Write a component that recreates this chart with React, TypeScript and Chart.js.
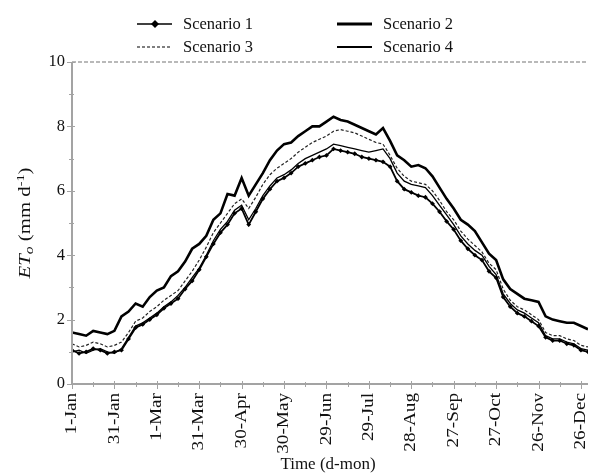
import React, { useEffect, useRef } from 'react';
import { Chart, registerables } from 'chart.js';

Chart.register(...registerables);

// Day of year (leap year, 1 = 1-Jan)
const days = [1, 6, 11, 16, 21, 26, 31, 36, 41, 46, 51, 56, 61, 66, 71, 76, 81, 86, 91, 96, 101, 106, 111, 116, 121, 126, 131, 136, 141, 146, 151, 156, 161, 166, 171, 176, 181, 186, 191, 196, 201, 206, 211, 216, 221, 226, 231, 236, 241, 246, 251, 256, 261, 266, 271, 276, 281, 286, 291, 296, 301, 306, 311, 316, 321, 326, 331, 336, 341, 346, 351, 356, 361, 366];

const scenario1 = [1.05, 0.95, 1.0, 1.1, 1.05, 0.95, 1.0, 1.05, 1.4, 1.75, 1.85, 2.0, 2.15, 2.35, 2.5, 2.65, 2.95, 3.2, 3.55, 3.95, 4.35, 4.7, 4.95, 5.3, 5.45, 4.95, 5.35, 5.75, 6.05, 6.3, 6.4, 6.55, 6.75, 6.85, 6.95, 7.05, 7.1, 7.3, 7.25, 7.2, 7.15, 7.05, 7.0, 6.95, 6.9, 6.75, 6.3, 6.05, 5.95, 5.85, 5.8, 5.6, 5.35, 5.05, 4.8, 4.45, 4.2, 4.0, 3.85, 3.5, 3.3, 2.7, 2.4, 2.2, 2.1, 1.95, 1.8, 1.45, 1.35, 1.35, 1.25, 1.2, 1.05, 1.0];

const scenario2 = [1.6, 1.55, 1.5, 1.65, 1.6, 1.55, 1.65, 2.1, 2.25, 2.5, 2.4, 2.7, 2.9, 3.0, 3.35, 3.5, 3.8, 4.2, 4.35, 4.6, 5.1, 5.3, 5.9, 5.85, 6.4, 5.85, 6.2, 6.55, 6.95, 7.25, 7.45, 7.5, 7.7, 7.85, 8.0, 8.0, 8.15, 8.3, 8.2, 8.15, 8.05, 7.95, 7.85, 7.75, 7.95, 7.55, 7.1, 6.95, 6.75, 6.8, 6.7, 6.45, 6.1, 5.75, 5.45, 5.1, 4.95, 4.75, 4.4, 4.05, 3.85, 3.25, 2.95, 2.8, 2.65, 2.6, 2.55, 2.1, 2.0, 1.95, 1.9, 1.9, 1.8, 1.7];

const scenario3 = [1.25, 1.15, 1.2, 1.3, 1.25, 1.15, 1.2, 1.3, 1.6, 1.95, 2.05, 2.25, 2.4, 2.6, 2.75, 2.9, 3.2, 3.5, 3.85, 4.25, 4.7, 5.0, 5.3, 5.6, 5.75, 5.45, 5.8, 6.2, 6.5, 6.7, 6.85, 7.0, 7.2, 7.35, 7.5, 7.6, 7.7, 7.85, 7.9, 7.85, 7.8, 7.7, 7.6, 7.5, 7.45, 7.1, 6.7, 6.45, 6.3, 6.25, 6.2, 6.0, 5.7, 5.35, 5.1, 4.75, 4.5, 4.3, 4.1, 3.75, 3.55, 2.95, 2.6, 2.4, 2.3, 2.15, 2.0, 1.6, 1.5, 1.5, 1.4, 1.35, 1.2, 1.15];

const scenario4 = [1.0, 1.05, 0.95, 1.05, 1.1, 1.0, 0.95, 1.1, 1.45, 1.8, 1.9, 2.05, 2.2, 2.4, 2.55, 2.75, 3.0, 3.3, 3.6, 4.0, 4.45, 4.8, 5.05, 5.4, 5.55, 5.1, 5.45, 5.85, 6.15, 6.4, 6.5, 6.65, 6.85, 7.0, 7.1, 7.2, 7.3, 7.45, 7.4, 7.35, 7.3, 7.25, 7.2, 7.25, 7.3, 7.0, 6.55, 6.3, 6.2, 6.15, 6.1, 5.85, 5.55, 5.25, 4.95, 4.6, 4.35, 4.15, 4.0, 3.65, 3.4, 2.8, 2.5, 2.3, 2.2, 2.05, 1.9, 1.5, 1.4, 1.4, 1.3, 1.25, 1.1, 1.05];

const xTickLabels = ['1-Jan', '31-Jan', '1-Mar', '31-Mar', '30-Apr', '30-May', '29-Jun', '29-Jul', '28-Aug', '27-Sep', '27-Oct', '26-Nov', '26-Dec'];
const xTickDays = [1, 31, 61, 91, 121, 151, 181, 211, 241, 271, 301, 331, 361];
const yTickLabels = ['0', '2', '4', '6', '8', '10'];

const seriesNames = ['Scenario 1', 'Scenario 2', 'Scenario 3', 'Scenario 4'];

const FONT = '"Liberation Serif", "Times New Roman", serif';
const AXIS_COLOR = '#a3a3a3';
const TEXT_COLOR = '#111';

const toPoints = (vals: number[]) => vals.map((v, i) => ({ x: days[i], y: v }));

const decorPlugin = {
  id: 'decor',
  afterDatasetsDraw(chart: any) {
    const ctx = chart.ctx;
    const xs = chart.scales.x;
    const ys = chart.scales.y;
    const x0 = xs.left;
    const y0 = ys.bottom;
    ctx.save();
    const yTop = ys.getPixelForValue(10);
    ctx.strokeStyle = AXIS_COLOR;
    ctx.lineWidth = 1.5;
    ctx.setLineDash([4, 2]);
    ctx.beginPath();
    ctx.moveTo(x0, yTop);
    ctx.lineTo(xs.right, yTop);
    ctx.stroke();
    ctx.setLineDash([]);
    ctx.lineWidth = 2;
    ctx.beginPath();
    ctx.moveTo(x0, yTop);
    ctx.lineTo(x0, y0);
    ctx.lineTo(xs.right, y0);
    ctx.stroke();
    ctx.lineWidth = 1;
    for (let d = 1; d <= 366; d += 15) {
      const px = Math.round(xs.getPixelForValue(d)) + 0.5;
      const major = (d - 1) % 30 === 0;
      ctx.beginPath();
      ctx.moveTo(px, y0 - (major ? 3 : 2));
      ctx.lineTo(px, y0 + (major ? 5 : 3));
      ctx.stroke();
    }
    for (let v = 0; v <= 10; v += 1) {
      const py = Math.round(ys.getPixelForValue(v)) + 0.5;
      const major = v % 2 === 0;
      ctx.beginPath();
      ctx.moveTo(x0 - (major ? 5 : 3), py);
      ctx.lineTo(x0 + (major ? 3 : 2), py);
      ctx.stroke();
    }
    ctx.restore();
  },
  afterDraw(chart: any) {
    const ctx = chart.ctx;
    const xs = chart.scales.x;
    const ys = chart.scales.y;

    // rotated x tick labels
    ctx.save();
    ctx.fillStyle = TEXT_COLOR;
    ctx.font = `16px ${FONT}`;
    ctx.textAlign = 'right';
    ctx.textBaseline = 'middle';
    xTickDays.forEach((d, i) => {
      const px = xs.getPixelForValue(d);
      ctx.save();
      ctx.translate(px, ys.bottom + 9);
      ctx.rotate(-Math.PI / 2);
      ctx.scale(1.2, 1);
      ctx.fillText(xTickLabels[i], 0, 0);
      ctx.restore();
    });
    ctx.restore();

    ctx.save();
    ctx.fillStyle = TEXT_COLOR;
    // x title
    ctx.font = `17px ${FONT}`;
    ctx.textAlign = 'center';
    ctx.textBaseline = 'middle';
    ctx.fillText('Time (d-mon)', (xs.left + xs.right) / 2 - 2, 465);
    // y title with subscript / superscript
    const parts = [
      { t: 'ET', f: `italic 16px ${FONT}`, dy: 0 },
      { t: 'o', f: `italic 12px ${FONT}`, dy: 4 },
      { t: ' (mm d', f: `16px ${FONT}`, dy: 0 },
      { t: '-1', f: `11px ${FONT}`, dy: -5 },
      { t: ')', f: `16px ${FONT}`, dy: 0 },
    ];
    let total = 0;
    for (const p of parts) {
      ctx.font = p.f;
      total += ctx.measureText(p.t).width;
    }
    ctx.translate(26, (ys.top + ys.bottom) / 2);
    ctx.rotate(-Math.PI / 2);
    ctx.scale(1.3, 1);
    ctx.textAlign = 'left';
    let cx = -total / 2;
    for (const p of parts) {
      ctx.font = p.f;
      ctx.fillText(p.t, cx, p.dy);
      cx += ctx.measureText(p.t).width;
    }
    ctx.restore();

    // legend
    ctx.save();
    ctx.font = `16.5px ${FONT}`;
    ctx.textAlign = 'left';
    ctx.textBaseline = 'middle';
    ctx.fillStyle = TEXT_COLOR;
    ctx.strokeStyle = '#000';
    const items = [
      { name: seriesNames[0], lx: 137, ty: 24, w: 1.5, dash: [] as number[], marker: true },
      { name: seriesNames[1], lx: 337, ty: 24, w: 3, dash: [] as number[], marker: false },
      { name: seriesNames[2], lx: 137, ty: 47, w: 1.2, dash: [3, 2], marker: false },
      { name: seriesNames[3], lx: 337, ty: 47, w: 2, dash: [] as number[], marker: false },
    ];
    for (const it of items) {
      ctx.lineWidth = it.w;
      ctx.setLineDash(it.dash);
      ctx.beginPath();
      ctx.moveTo(it.lx, it.ty);
      ctx.lineTo(it.lx + 35, it.ty);
      ctx.stroke();
      ctx.setLineDash([]);
      if (it.marker) {
        const mx = it.lx + 18;
        ctx.fillStyle = '#000';
        ctx.beginPath();
        ctx.moveTo(mx, it.ty - 4);
        ctx.lineTo(mx + 4, it.ty);
        ctx.lineTo(mx, it.ty + 4);
        ctx.lineTo(mx - 4, it.ty);
        ctx.closePath();
        ctx.fill();
        ctx.fillStyle = TEXT_COLOR;
      }
      ctx.fillText(it.name, it.lx + 46, it.ty + 1);
    }
    ctx.restore();
  },
};

export default function App() {
  const canvasRef = useRef<HTMLCanvasElement | null>(null);

  useEffect(() => {
    document.body.style.margin = '0';
    const canvas = canvasRef.current;
    if (!canvas) return;
    const chart = new Chart(canvas, {
      type: 'line',
      data: {
        datasets: [
          {
            label: seriesNames[1],
            data: toPoints(scenario2),
            borderColor: '#000',
            borderWidth: 2.6,
            pointRadius: 0,
            tension: 0,
          },
          {
            label: seriesNames[2],
            data: toPoints(scenario3),
            borderColor: '#222',
            borderWidth: 1.2,
            borderDash: [3, 2],
            pointRadius: 0,
            tension: 0,
          },
          {
            label: seriesNames[3],
            data: toPoints(scenario4),
            borderColor: '#000',
            borderWidth: 1.3,
            pointRadius: 0,
            tension: 0,
          },
          {
            label: seriesNames[0],
            data: toPoints(scenario1),
            borderColor: '#000',
            backgroundColor: '#000',
            borderWidth: 1.8,
            pointStyle: 'rectRot',
            pointRadius: 2.4,
            pointBorderWidth: 0,
            tension: 0,
          },
        ],
      },
      options: {
        animation: false,
        responsive: false,
        maintainAspectRatio: false,
        layout: { padding: { top: 62, left: 0, right: 0, bottom: 0 } },
        plugins: {
          legend: { display: false },
          tooltip: { enabled: false },
        },
        scales: {
          x: {
            type: 'linear',
            min: 1,
            max: 366,
            afterFit: (s: any) => {
              s.height = 92;
              s.paddingLeft = 0;
              s.paddingRight = 0;
            },
            afterBuildTicks: (s: any) => {
              s.ticks = xTickDays.map((d) => ({ value: d }));
            },
            grid: { display: false, drawTicks: false },
            border: { display: false },
            ticks: { display: false },
          },
          y: {
            type: 'linear',
            min: 0,
            max: 10,
            afterFit: (s: any) => {
              s.width = 72;
              s.paddingTop = 0;
              s.paddingBottom = 0;
            },
            afterBuildTicks: (s: any) => {
              s.ticks = yTickLabels.map((t) => ({ value: Number(t) }));
            },
            grid: { display: false, drawTicks: false },
            border: { display: false },
            ticks: {
              padding: 7,
              color: TEXT_COLOR,
              font: { family: FONT, size: 16.5 },
              callback: (v: any) => String(v),
            },
          },
        },
      },
      plugins: [decorPlugin],
    });
    return () => chart.destroy();
  }, []);

  return (
    <div style={{ position: 'fixed', left: 0, top: 0, width: 592, height: 476, background: '#fff' }}>
      <canvas ref={canvasRef} width={592} height={476} style={{ width: 592, height: 476 }} />
    </div>
  );
}
